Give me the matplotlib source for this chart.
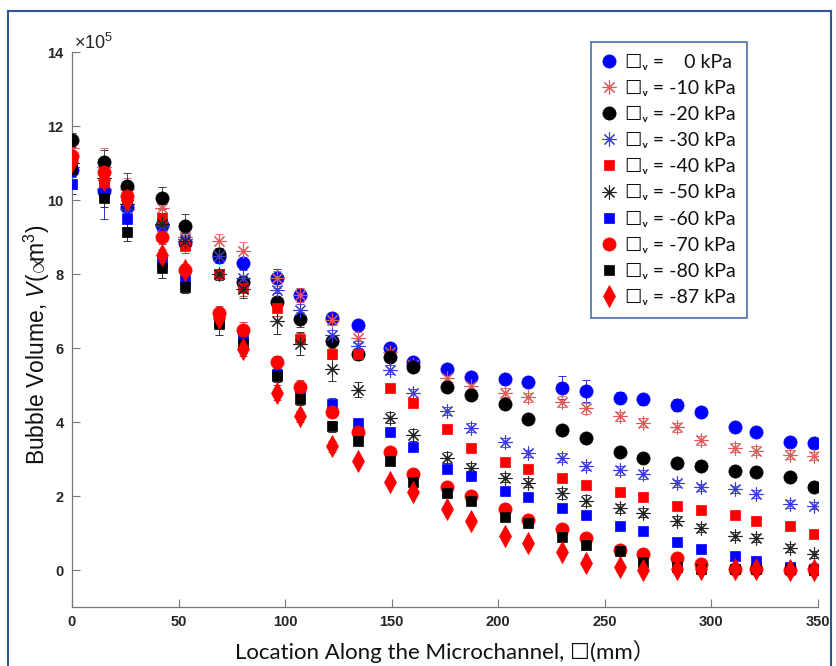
import matplotlib
matplotlib.use("Agg")
import matplotlib.pyplot as plt
from matplotlib.lines import Line2D

# ---------------- data (volume in units of 1e5 um^3) ----------------
location_mm = [0, 15, 26, 42, 53, 69, 80, 96, 107, 122, 134, 149, 160, 176,
               187, 203, 214, 230, 241, 257, 268, 284, 295, 311, 321, 337, 348]

v_0 = [10.81, 10.25, 9.82, 9.33, 8.85, 8.45, 8.29, 7.88, 7.43, 6.80, 6.62, 5.99, 5.63, 5.42,
       5.22, 5.15, 5.07, 4.93, 4.84, 4.66, 4.61, 4.46, 4.28, 3.87, 3.72, 3.45, 3.44]
v_10 = [11.40, 10.90, 10.30, 9.78, 9.00, 8.89, 8.61, 7.88, 7.43, 6.77, 6.28, 5.90, 5.55, 5.18,
        4.96, 4.79, 4.67, 4.55, 4.37, 4.16, 3.98, 3.86, 3.51, 3.31, 3.22, 3.11, 3.08]
v_20 = [11.62, 11.04, 10.38, 10.06, 9.31, 8.54, 7.79, 7.25, 6.78, 6.20, 5.85, 5.77, 5.48, 4.95,
        4.72, 4.49, 4.07, 3.78, 3.56, 3.20, 3.02, 2.90, 2.81, 2.68, 2.66, 2.52, 2.25]
v_30 = [10.90, 10.30, 9.75, 9.30, 8.95, 8.50, 7.90, 7.57, 7.04, 6.35, 6.05, 5.41, 4.78, 4.30,
        3.85, 3.45, 3.15, 3.04, 2.81, 2.70, 2.59, 2.34, 2.23, 2.18, 2.05, 1.78, 1.74]
v_40 = [11.10, 10.45, 10.05, 9.51, 8.76, 7.99, 7.61, 7.07, 6.25, 5.85, 5.83, 4.91, 4.51, 3.81,
        3.29, 2.93, 2.72, 2.48, 2.30, 2.10, 1.98, 1.73, 1.62, 1.50, 1.33, 1.19, 0.97]
v_50 = [11.00, 10.60, 9.90, 9.35, 8.90, 7.99, 7.59, 6.74, 6.12, 5.42, 4.87, 4.12, 3.65, 3.04,
        2.75, 2.50, 2.36, 2.07, 1.87, 1.67, 1.55, 1.33, 1.14, 0.92, 0.86, 0.59, 0.42]
v_60 = [10.42, 10.20, 9.48, 8.33, 7.85, 6.70, 6.27, 5.30, 4.90, 4.49, 3.98, 3.72, 3.32, 2.72,
        2.55, 2.14, 1.98, 1.67, 1.49, 1.19, 1.05, 0.75, 0.56, 0.39, 0.25, 0.07, 0.03]
v_70 = [11.20, 10.75, 10.12, 9.00, 8.11, 6.94, 6.49, 5.63, 4.94, 4.28, 3.74, 3.20, 2.59, 2.23,
        2.00, 1.64, 1.35, 1.10, 0.86, 0.53, 0.42, 0.32, 0.15, 0.02, 0.02, 0.01, 0.02]
v_80 = [10.85, 10.05, 9.13, 8.15, 7.64, 6.65, 6.10, 5.23, 4.61, 3.89, 3.49, 2.95, 2.39, 2.09,
        1.87, 1.44, 1.28, 0.90, 0.68, 0.52, 0.22, 0.09, 0.02, 0.02, 0.02, 0.02, 0.01]
v_87 = [11.05, 10.55, 10.00, 8.52, 8.10, 6.80, 5.98, 4.79, 4.16, 3.35, 2.95, 2.39, 2.12, 1.66,
        1.33, 0.92, 0.72, 0.50, 0.20, 0.07, 0.00, 0.02, 0.02, 0.02, 0.02, 0.00, 0.00]

e_0 = [0.20, 0.25, 0.20, 0.25, 0.20, 0.15, 0.15, 0.25, 0.20, 0.15, 0.10, 0.10, 0.10, 0.10,
       0.10, 0.10, 0.10, 0.30, 0.30, 0.15, 0.15, 0.15, 0.10, 0.10, 0.10, 0.10, 0.10]
e_10 = [0.30, 0.50, 0.30, 0.30, 0.25, 0.20, 0.25, 0.20, 0.20, 0.15, 0.15, 0.15, 0.15, 0.15,
        0.15, 0.12, 0.12, 0.15, 0.15, 0.12, 0.12, 0.12, 0.12, 0.12, 0.12, 0.12, 0.12]
e_20 = [0.20, 0.30, 0.35, 0.30, 0.30, 0.15, 0.15, 0.25, 0.20, 0.15, 0.15, 0.10, 0.10, 0.10,
        0.10, 0.10, 0.10, 0.10, 0.10, 0.10, 0.10, 0.10, 0.10, 0.10, 0.10, 0.10, 0.10]
e_30 = [0.20, 0.25, 0.20, 0.20, 0.15, 0.15, 0.20, 0.20, 0.15, 0.15, 0.15, 0.12, 0.12, 0.10,
        0.12, 0.12, 0.10, 0.12, 0.12, 0.12, 0.12, 0.10, 0.10, 0.10, 0.10, 0.10, 0.10]
e_40 = [0.20, 0.25, 0.20, 0.25, 0.20, 0.15, 0.20, 0.20, 0.15, 0.15, 0.15, 0.10, 0.10, 0.10,
        0.10, 0.10, 0.10, 0.10, 0.10, 0.10, 0.10, 0.10, 0.10, 0.10, 0.10, 0.10, 0.10]
e_50 = [0.25, 0.40, 0.30, 0.30, 0.20, 0.15, 0.25, 0.35, 0.30, 0.30, 0.20, 0.15, 0.15, 0.15,
        0.15, 0.12, 0.12, 0.15, 0.15, 0.12, 0.12, 0.12, 0.10, 0.10, 0.10, 0.10, 0.10]
e_60 = [0.25, 0.70, 0.20, 0.20, 0.15, 0.15, 0.15, 0.15, 0.15, 0.15, 0.10, 0.10, 0.10, 0.10,
        0.10, 0.10, 0.10, 0.10, 0.10, 0.10, 0.10, 0.10, 0.10, 0.10, 0.10, 0.10, 0.10]
e_70 = [0.20, 0.25, 0.25, 0.20, 0.15, 0.20, 0.20, 0.15, 0.20, 0.15, 0.15, 0.10, 0.10, 0.10,
        0.10, 0.10, 0.10, 0.10, 0.10, 0.10, 0.10, 0.10, 0.10, 0.10, 0.10, 0.10, 0.10]
e_80 = [0.20, 0.25, 0.25, 0.25, 0.15, 0.30, 0.20, 0.15, 0.15, 0.15, 0.10, 0.10, 0.10, 0.10,
        0.10, 0.10, 0.10, 0.10, 0.10, 0.10, 0.10, 0.10, 0.10, 0.10, 0.10, 0.10, 0.10]
e_87 = [0.15, 0.15, 0.15, 0.15, 0.15, 0.15, 0.20, 0.20, 0.15, 0.15, 0.10, 0.10, 0.10, 0.10,
        0.10, 0.10, 0.10, 0.10, 0.10, 0.10, 0.10, 0.10, 0.10, 0.10, 0.10, 0.10, 0.10]

pressure_labels = ["=    0 kPa", "= -10 kPa", "= -20 kPa", "= -30 kPa", "= -40 kPa",
                   "= -50 kPa", "= -60 kPa", "= -70 kPa", "= -80 kPa", "= -87 kPa"]

x_ticks = [0, 50, 100, 150, 200, 250, 300, 350]
y_ticks = [0, 2, 4, 6, 8, 10, 12, 14]

# ---------------- styles ----------------
plt.rcParams['mathtext.fontset'] = 'custom'
plt.rcParams['mathtext.rm'] = 'Liberation Sans'
plt.rcParams['mathtext.it'] = 'Liberation Sans:italic'

ASTER = (8, 2, 0)
styles = [
    dict(marker='o', ms=9.5, mfc='#0000ff', mec='#0000ff', mew=0.5, ec='#3030d0'),
    dict(marker=ASTER, ms=10, mfc='none', mec='#e05a5a', mew=0.8, ec='#e07070'),
    dict(marker='o', ms=9.5, mfc='#000000', mec='#000000', mew=0.5, ec='#444444'),
    dict(marker=ASTER, ms=10, mfc='none', mec='#3b3bdd', mew=0.8, ec='#5050dd'),
    dict(marker='s', ms=7.5, mfc='#ff0000', mec='#ff0000', mew=0.5, ec='#d04040'),
    dict(marker=ASTER, ms=10, mfc='none', mec='#222222', mew=0.8, ec='#333333'),
    dict(marker='s', ms=7.5, mfc='#0000ff', mec='#0000ff', mew=0.5, ec='#3030d0'),
    dict(marker='o', ms=9.5, mfc='#ff0000', mec='#ff0000', mew=0.5, ec='#d04040'),
    dict(marker='s', ms=7.5, mfc='#000000', mec='#000000', mew=0.5, ec='#333333'),
    dict(marker='d', ms=11, mfc='#ff0000', mec='#ff0000', mew=0.5, ec='#d04040'),
]
series = [v_0, v_10, v_20, v_30, v_40, v_50, v_60, v_70, v_80, v_87]
errors = [e_0, e_10, e_20, e_30, e_40, e_50, e_60, e_70, e_80, e_87]

fig = plt.figure(figsize=(8.36, 6.66), dpi=100)
ax = fig.add_axes([72/836, 1-607/666, (818-72)/836, (607-52)/666])

for vals, errs, st in zip(series, errors, styles):
    ax.errorbar(location_mm, vals, yerr=errs, fmt='none', ecolor=st['ec'],
                elinewidth=0.7, capsize=3, capthick=0.7, zorder=2)
for vals, st, lab in zip(series, styles, pressure_labels):
    ax.plot(location_mm, vals, linestyle='none', marker=st['marker'], ms=st['ms'],
            mfc=st['mfc'], mec=st['mec'], mew=st['mew'], zorder=3,
            label="\u2610\u1d65 " + lab)

ax.set_xlim(0, 350)
ax.set_ylim(-1, 14)
ax.set_xticks(x_ticks)
ax.set_yticks(y_ticks)
for s in ['top', 'right']:
    ax.spines[s].set_visible(False)
for s in ['left', 'bottom']:
    ax.spines[s].set_color('#777777')
    ax.spines[s].set_linewidth(0.9)
ax.tick_params(direction='in', length=6, width=0.8, color='#777777',
               labelsize=10.5, labelcolor='#262626', pad=6)
for lbl in ax.get_xticklabels() + ax.get_yticklabels():
    lbl.set_fontfamily('Liberation Sans')
    lbl.set_fontweight('bold')

ax.text(0.003, 1.017, "\u00d710$^5$", transform=ax.transAxes, ha='left', va='center',
        fontsize=13, color='#262626', family=['Liberation Sans', 'DejaVu Sans'])

fig.text(37/836, 1-345/666, "Bubble Volume, $V$($\\!\\propto\\!\\!\\!$m$^3$)", rotation=90,
         ha='center', va='center', fontsize=16.5, color='#111111',
         family=['Liberation Sans', 'DejaVu Sans'])
fig.text(445/836, 1-651/666, "Location Along the Microchannel, \u2610(mm\uff09",
         ha='center', va='center', fontsize=16, color='#111111',
         family=['Lato', 'DejaVu Sans', 'Noto Sans CJK SC'])

leg = ax.legend(loc='upper left', bbox_to_anchor=((591-72)/746, (607-42)/555),
                frameon=True, fancybox=False, framealpha=1, edgecolor='#4a6fa8',
                prop={'family': ['Lato', 'DejaVu Sans'], 'size': 14},
                handlelength=0.7, handletextpad=0.45, labelspacing=0.47,
                borderpad=0.6, borderaxespad=0)
leg.get_frame().set_linewidth(1.2)
for t in leg.get_texts():
    t.set_color('#111111')

# outer frame (left, top, right)
border = dict(color='#2f5597', linewidth=1.5, transform=fig.transFigure)
fig.add_artist(Line2D([8/836, 8/836], [0, 1-11/666], **border))
fig.add_artist(Line2D([8/836, 831/836], [1-11/666, 1-11/666], **border))
fig.add_artist(Line2D([831/836, 831/836], [0, 1-11/666], **border))

fig.savefig("out.png", dpi=100)
